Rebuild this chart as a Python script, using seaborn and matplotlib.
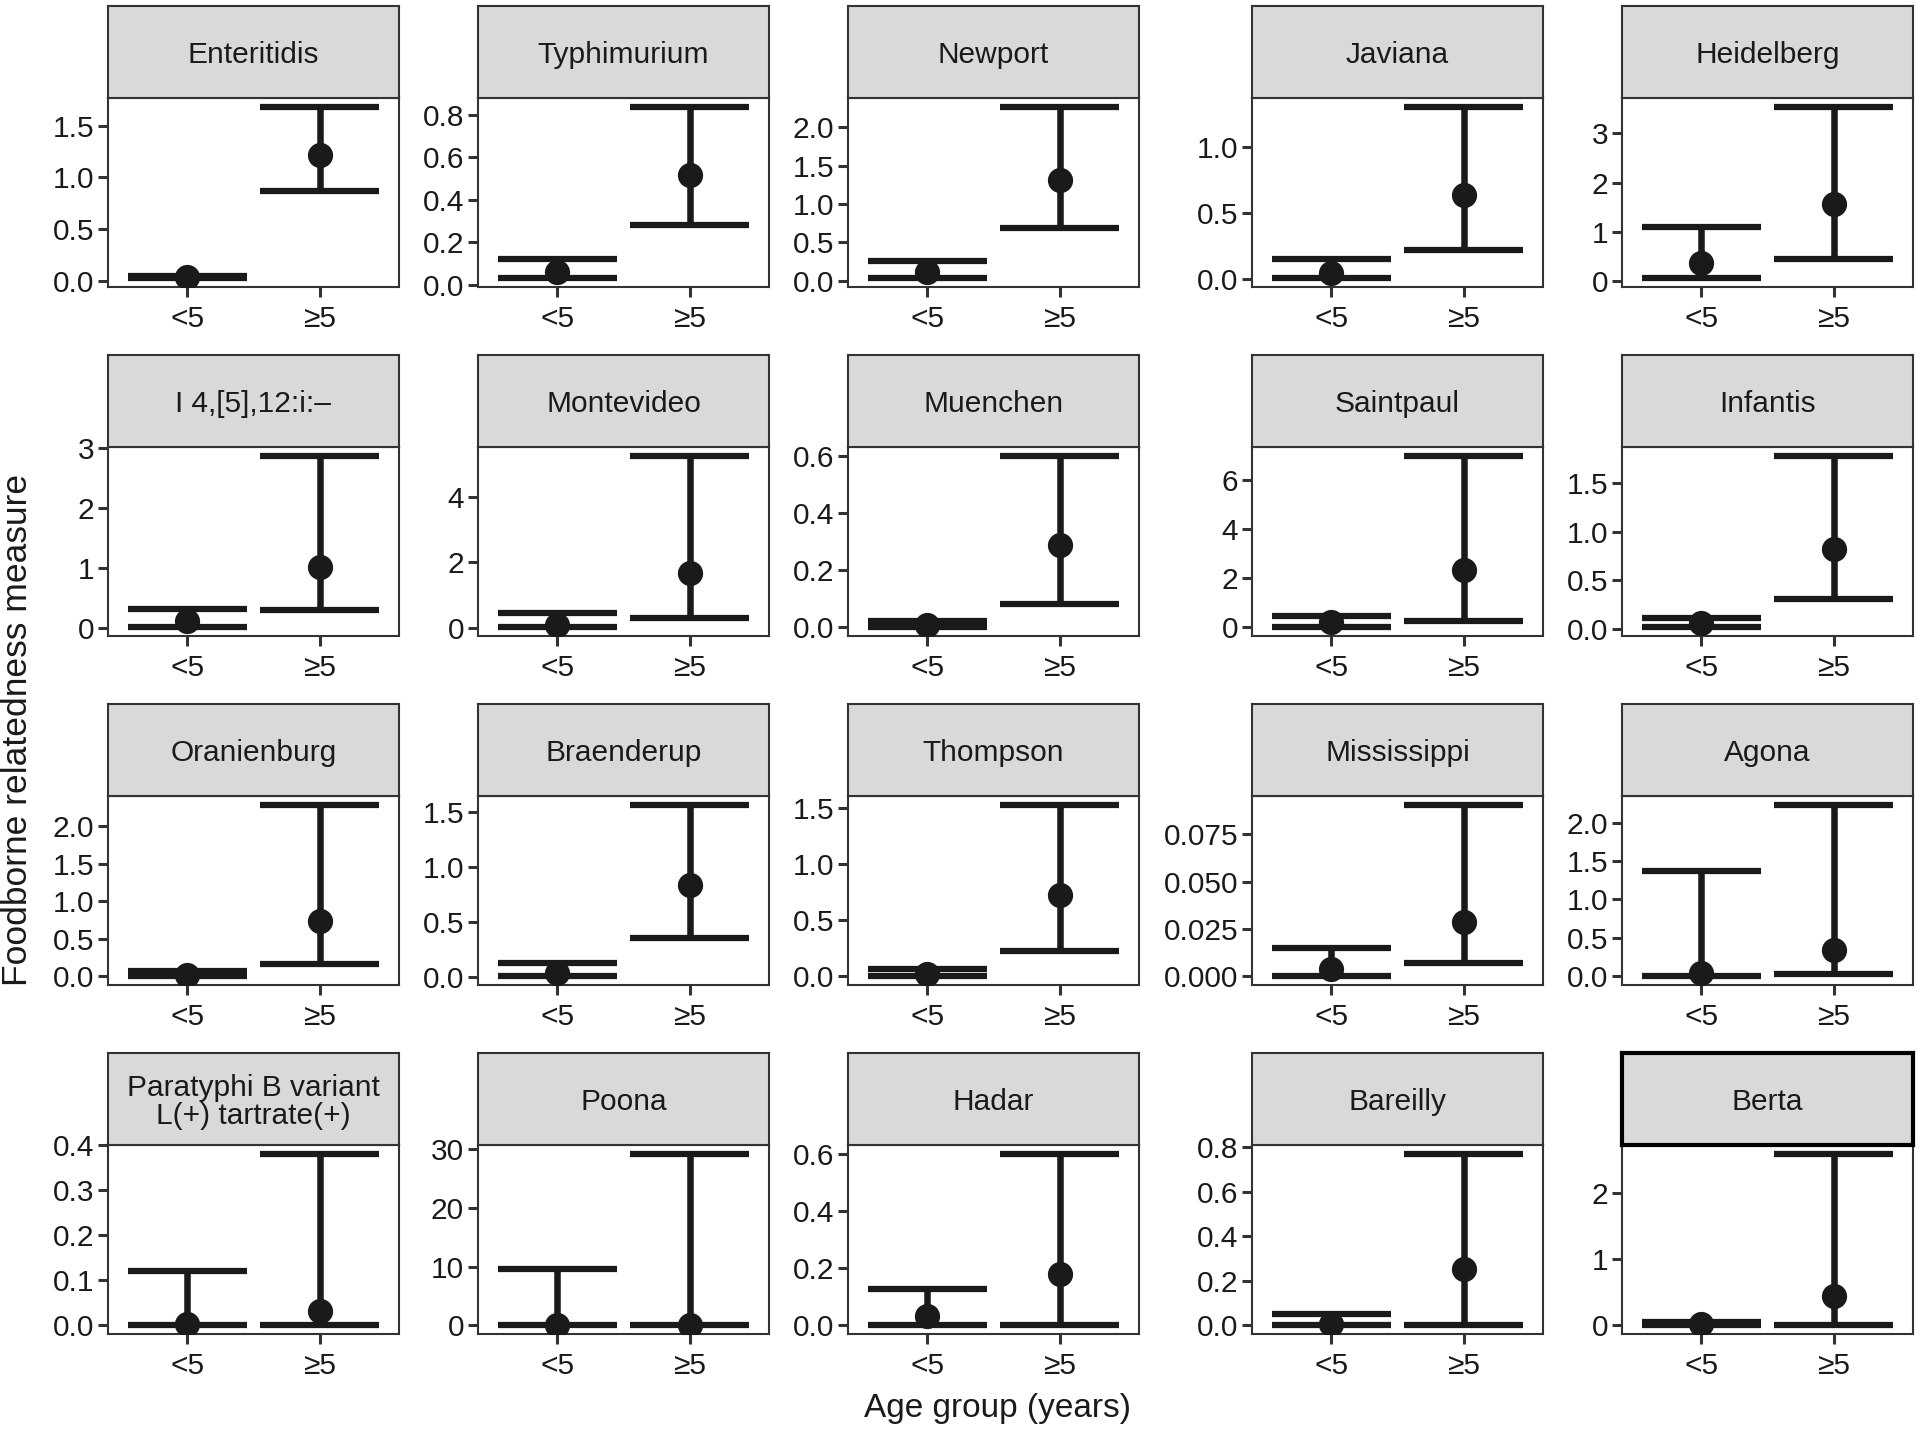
# Foodborne relatedness measure by age group, one small panel per Salmonella serotype
import seaborn as sns
import matplotlib.pyplot as plt
import pandas as pd

serotypes = ["Enteritidis", "Typhimurium", "Newport", "Javiana", "Heidelberg",
             "I 4,[5],12:i:\u2013", "Montevideo", "Muenchen", "Saintpaul", "Infantis",
             "Oranienburg", "Braenderup", "Thompson", "Mississippi", "Agona",
             "Paratyphi B variant\nL(+) tartrate(+)", "Poona", "Hadar", "Bareilly", "Berta"]
age_groups = ["<5", "\u22655"]

# point estimate and interval for children under 5
est_under5 = [0.040, 0.061, 0.108, 0.043, 0.357,
              0.120, 0.080, 0.008, 0.200, 0.061,
              0.025, 0.039, 0.025, 0.0037, 0.044,
              0.004, 0.050, 0.034, 0.008, 0.015]
lo_under5 = [0.025, 0.030, 0.030, 0.005, 0.054,
             0.010, 0.010, 0.000, 0.000, 0.017,
             0.000, 0.006, 0.000, 0.000, 0.000,
             0.000, 0.000, 0.000, 0.000, 0.000]
hi_under5 = [0.050, 0.120, 0.251, 0.152, 1.089,
             0.320, 0.447, 0.022, 0.470, 0.109,
             0.066, 0.132, 0.062, 0.0148, 1.371,
             0.122, 9.570, 0.129, 0.052, 0.050]

# point estimate and interval for ages 5 and over
est_over5 = [1.216, 0.517, 1.317, 0.632, 1.566,
             1.015, 1.666, 0.287, 2.330, 0.825,
             0.733, 0.835, 0.723, 0.0286, 0.349,
             0.0317, 0.100, 0.180, 0.254, 0.445]
lo_over5 = [0.864, 0.282, 0.691, 0.220, 0.458,
            0.298, 0.305, 0.081, 0.270, 0.310,
            0.168, 0.357, 0.225, 0.0072, 0.035,
            0.000, 0.000, 0.000, 0.000, 0.000]
hi_over5 = [1.683, 0.838, 2.272, 1.303, 3.542,
            2.869, 5.270, 0.600, 6.990, 1.782,
            2.287, 1.563, 1.528, 0.0907, 2.233,
            0.382, 29.20, 0.603, 0.772, 2.590]

# y tick values and decimals used for their labels
y_ticks = [[0, 0.5, 1.0, 1.5], [0, 0.2, 0.4, 0.6, 0.8], [0, 0.5, 1.0, 1.5, 2.0], [0, 0.5, 1.0], [0, 1, 2, 3],
           [0, 1, 2, 3], [0, 2, 4], [0, 0.2, 0.4, 0.6], [0, 2, 4, 6], [0, 0.5, 1.0, 1.5],
           [0, 0.5, 1.0, 1.5, 2.0], [0, 0.5, 1.0, 1.5], [0, 0.5, 1.0, 1.5], [0, 0.025, 0.05, 0.075], [0, 0.5, 1.0, 1.5, 2.0],
           [0, 0.1, 0.2, 0.3, 0.4], [0, 10, 20, 30], [0, 0.2, 0.4, 0.6], [0, 0.2, 0.4, 0.6, 0.8], [0, 1, 2]]
y_decimals = [1, 1, 1, 1, 0,
              0, 0, 1, 0, 1,
              1, 1, 1, 3, 1,
              1, 0, 1, 1, 0]

sns.set_style("ticks")
plt.rcParams['font.family'] = ['Liberation Sans', 'DejaVu Sans']

W, H = 1920, 1431
fig = plt.figure(figsize=(W / 100, H / 100), dpi=100)

# panel layout in pixels
col_left = [108, 478, 848, 1252, 1622]
row_top = [6, 355, 704, 1053]
panel_w, strip_h, panel_h = 291, 92, 189
ink = "#1a1a1a"
frame = "#333333"

for i, name in enumerate(serotypes):
    r, c = divmod(i, 5)
    x0 = col_left[c]
    top = row_top[r]

    ax = fig.add_axes([x0 / W, 1 - (top + strip_h + panel_h) / H, panel_w / W, panel_h / H])
    strip = fig.add_axes([x0 / W, 1 - (top + strip_h) / H, panel_w / W, strip_h / H])

    df = pd.DataFrame({"age": [0, 1],
                       "est": [est_under5[i], est_over5[i]],
                       "lo": [lo_under5[i], lo_over5[i]],
                       "hi": [hi_under5[i], hi_over5[i]]})

    # error bars: stem plus wide caps
    ax.vlines(df["age"], df["lo"], df["hi"], color=ink, lw=4.7, zorder=2)
    ax.hlines(df["lo"], df["age"] - 0.45, df["age"] + 0.45, color=ink, lw=4.5, zorder=2)
    ax.hlines(df["hi"], df["age"] - 0.45, df["age"] + 0.45, color=ink, lw=4.5, zorder=2)
    sns.scatterplot(data=df, x="age", y="est", s=330, color=ink, linewidth=0, ax=ax, zorder=3)

    ymin, ymax = df["lo"].min(), df["hi"].max()
    pad = 0.05 * (ymax - ymin)
    ax.set_ylim(ymin - pad, ymax + pad)
    ax.set_xlim(-0.6, 1.6)
    ax.set_xticks([0, 1], age_groups)
    ax.set_yticks(y_ticks[i], [f"{t:.{y_decimals[i]}f}" for t in y_ticks[i]])
    ax.set_xlabel("")
    ax.set_ylabel("")
    ax.tick_params(axis="both", bottom=True, left=True, length=7, width=2.2, color=frame,
                   labelsize=21.5, labelcolor=ink)
    ax.tick_params(axis="x", pad=6)
    ax.tick_params(axis="y", pad=3)
    for sp in ax.spines.values():
        sp.set_color(frame)
        sp.set_linewidth(1.5)

    # facet strip
    strip.set_facecolor("#d9d9d9")
    strip.set_xticks([])
    strip.set_yticks([])
    for sp in strip.spines.values():
        sp.set_color("black" if name == "Berta" else frame)
        sp.set_linewidth(3 if name == "Berta" else 1.5)
    strip.text(0.5, 0.47, name, ha="center", va="center", fontsize=21.5, color=ink,
                transform=strip.transAxes, linespacing=1.0)

fig.text(18 / W, 1 - 730 / H, "Foodborne relatedness measure", rotation=90,
         ha="center", va="center", fontsize=25.5, color=ink)
fig.text(997 / W, 1 - 1408 / H, "Age group (years)", ha="center", va="center",
         fontsize=24, color=ink)

plt.savefig("out.png", dpi=100)
plt.close()
